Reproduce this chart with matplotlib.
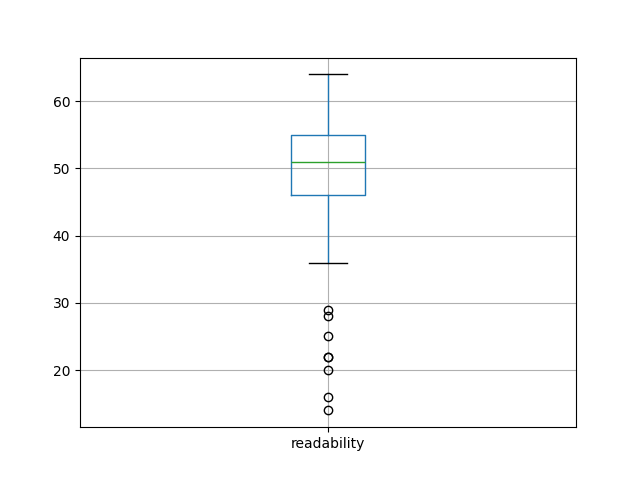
import matplotlib
matplotlib.use("Agg")
import matplotlib.pyplot as plt

labels = ['readability']
q1 = [46]
med = [51]
q3 = [55]
whislo = [36]
whishi = [64]
fliers = [[29, 28, 25, 22, 22, 20, 16, 14]]

stats = []
for i in range(len(labels)):
    stats.append({'label': labels[i], 'q1': q1[i], 'med': med[i], 'q3': q3[i],
                  'whislo': whislo[i], 'whishi': whishi[i], 'fliers': fliers[i]})

fig, ax = plt.subplots(figsize=(6.4, 4.8), dpi=100)
ax.bxp(stats,
       boxprops=dict(color='C0'),
       whiskerprops=dict(color='C0'),
       medianprops=dict(color='C2'),
       capprops=dict(color='k'),
       flierprops=dict(markeredgecolor='k'))
ax.grid(True)
fig.savefig('out.png')
